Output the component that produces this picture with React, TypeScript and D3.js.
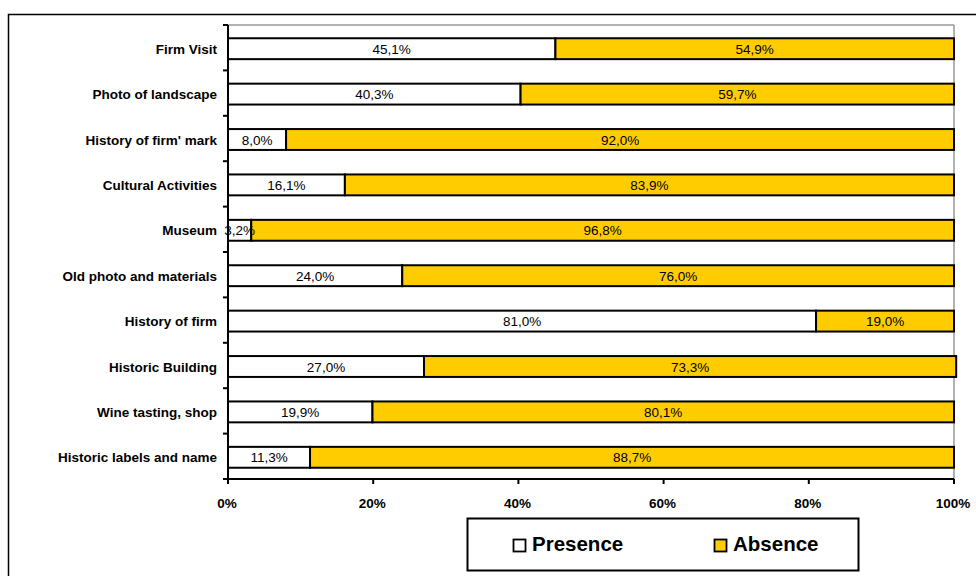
import React from "react";
import * as d3 from "d3";

const categories = [
  "Firm Visit",
  "Photo of landscape",
  "History of firm' mark",
  "Cultural Activities",
  "Museum",
  "Old photo and materials",
  "History of firm",
  "Historic Building",
  "Wine tasting, shop",
  "Historic labels and name",
];
const presence = [45.1, 40.3, 8.0, 16.1, 3.2, 24.0, 81.0, 27.0, 19.9, 11.3];
const absence = [54.9, 59.7, 92.0, 83.9, 96.8, 76.0, 19.0, 73.3, 80.1, 88.7];
const xTicks = [0, 20, 40, 60, 80, 100];
const seriesNames = ["Presence", "Absence"];

const W = 976;
const H = 576;
const plot = { left: 228, right: 954, top: 25, bottom: 479 };
const FONT = "Arial, 'Liberation Sans', sans-serif";
const YELLOW = "#FFCC00";

const fmt = (v: number) => v.toFixed(1).replace(".", ",") + "%";

export default function App() {
  const x = d3.scaleLinear().domain([0, 100]).range([plot.left, plot.right]);
  const y = d3
    .scaleBand<string>()
    .domain(categories)
    .range([plot.top + 1, plot.bottom + 1])
    .paddingInner(0.54)
    .paddingOuter(0.27);
  const n = categories.length;
  const boundaries = d3.range(n + 1).map((i) => plot.top + i * ((plot.bottom - plot.top) / n));

  return (
    <svg width={W} height={H} style={{ position: "absolute", left: 0, top: 0 }}>
      <rect x={0} y={0} width={W} height={H} fill="#fff" />
      {/* outer chart border */}
      <rect x={8.5} y={14.5} width={980} height={580} fill="none" stroke="#000" strokeWidth={1.5} />
      {/* plot area top/right gray lines */}
      <line x1={plot.left} x2={plot.right} y1={plot.top} y2={plot.top} stroke="#999" strokeWidth={1.5} />
      <line x1={plot.right} x2={plot.right} y1={plot.top} y2={plot.bottom} stroke="#999" strokeWidth={1.5} />

      {/* bars */}
      {categories.map((c, i) => {
        const by = y(c)!;
        const bh = y.bandwidth();
        const p = presence[i];
        const a = absence[i];
        return (
          <g key={c}>
            <rect x={x(0)} y={by} width={x(p) - x(0)} height={bh} fill="#fff" stroke="#000" strokeWidth={2} />
            <rect x={x(p)} y={by} width={x(p + a) - x(p)} height={bh} fill={YELLOW} stroke="#000" strokeWidth={2} />
            <text x={(x(0) + x(p)) / 2} y={by + bh / 2 + 5} textAnchor="middle" fontFamily={FONT} fontSize={13.5} fill="#000">
              {fmt(p)}
            </text>
            <text x={(x(p) + x(p + a)) / 2} y={by + bh / 2 + 5} textAnchor="middle" fontFamily={FONT} fontSize={13.5} fill="#000">
              {fmt(a)}
            </text>
            <text x={217} y={by + bh / 2 + 5} textAnchor="end" fontFamily={FONT} fontSize={13.5} fontWeight="bold" fill="#000">
              {c}
            </text>
          </g>
        );
      })}

      {/* y axis */}
      <line x1={plot.left} x2={plot.left} y1={plot.top} y2={plot.bottom} stroke="#000" strokeWidth={2} />
      {boundaries.map((b, i) => (
        <line key={i} x1={plot.left - 5} x2={plot.left} y1={b} y2={b} stroke="#000" strokeWidth={2} />
      ))}

      {/* x axis */}
      <line x1={plot.left - 5} x2={plot.right} y1={plot.bottom} y2={plot.bottom} stroke="#000" strokeWidth={2} />
      {xTicks.map((t) => (
        <g key={t}>
          <line x1={x(t)} x2={x(t)} y1={plot.bottom} y2={plot.bottom + 5} stroke="#000" strokeWidth={2} />
          <text x={x(t) - 1} y={plot.bottom + 29} textAnchor="middle" fontFamily={FONT} fontSize={13.5} fontWeight="bold" fill="#000">
            {t + "%"}
          </text>
        </g>
      ))}

      {/* legend */}
      <rect x={467.5} y={518.5} width={391} height={52} fill="#fff" stroke="#000" strokeWidth={2} />
      <rect x={513.5} y={539.5} width={12} height={12} fill="#fff" stroke="#000" strokeWidth={1.8} />
      <text x={532} y={551} fontFamily={FONT} fontSize={20.5} fontWeight="bold" fill="#000">
        {seriesNames[0]}
      </text>
      <rect x={714.5} y={539.5} width={12} height={12} fill={YELLOW} stroke="#000" strokeWidth={1.8} />
      <text x={733} y={551} fontFamily={FONT} fontSize={20.5} fontWeight="bold" fill="#000">
        {seriesNames[1]}
      </text>
    </svg>
  );
}
